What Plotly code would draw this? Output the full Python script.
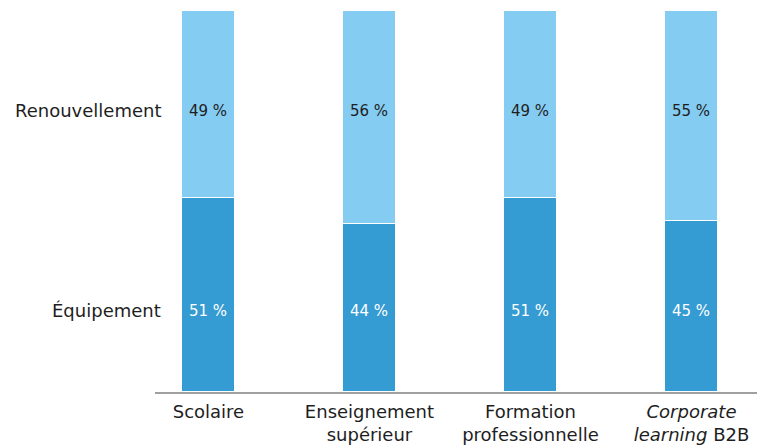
import plotly.graph_objects as go

# Share of spending by segment (%)
categories = ["Scolaire", "Enseignement supérieur", "Formation professionnelle", "Corporate learning B2B"]
tick_labels = ["Scolaire", "Enseignement<br>supérieur", "Formation<br>professionnelle",
               "<i>Corporate</i><br><i>learning</i> B2B"]
equipement = [51, 44, 51, 45]
renouvellement = [49, 56, 49, 55]
series_names = ["Équipement", "Renouvellement"]

DARK = "#359bd3"
LIGHT = "#84ccf2"
FONT = "DejaVu Sans"
INK = "#1e1e1e"

x = list(range(len(categories)))

fig = go.Figure()
fig.add_trace(go.Bar(
    x=x, y=equipement, name=series_names[0], width=0.33,
    marker=dict(color=DARK, line=dict(color="white", width=1.5)),
    hoverinfo="skip",
))
fig.add_trace(go.Bar(
    x=x, y=renouvellement, name=series_names[1], width=0.33,
    marker=dict(color=LIGHT, line=dict(color="white", width=1.5)),
    hoverinfo="skip",
))

annotations = []
# value labels sit at fixed heights in each segment row
for xi, e, r in zip(x, equipement, renouvellement):
    annotations.append(dict(x=xi, y=21.3, xref="x", yref="y", text=f"{e} %", showarrow=False,
                            font=dict(family=FONT, size=15, color="white")))
    annotations.append(dict(x=xi, y=73.8, xref="x", yref="y", text=f"{r} %", showarrow=False,
                            font=dict(family=FONT, size=15, color=INK)))
# row labels on the left
for name, yy in zip(series_names, [21.3, 73.8]):
    annotations.append(dict(x=-0.283, y=yy, xref="x", yref="y", text=name, showarrow=False,
                            xanchor="right", font=dict(family=FONT, size=18, color=INK)))

fig.update_layout(
    barmode="stack",
    width=765, height=448,
    margin=dict(l=155, r=8, t=11, b=56),
    paper_bgcolor="white", plot_bgcolor="white",
    showlegend=False,
    bargap=0,
    annotations=annotations,
    xaxis=dict(range=[-0.332, 3.407], tickvals=x, ticktext=tick_labels, automargin=False,
               showgrid=False, zeroline=False, showline=True, linecolor="#a0a0a0", linewidth=2,
               ticks="", ticklabelstandoff=2,
               tickfont=dict(family=FONT, size=18, color=INK)),
    yaxis=dict(range=[0, 100], visible=False, showgrid=False, zeroline=False, automargin=False),
)

fig.write_html("out.html")
